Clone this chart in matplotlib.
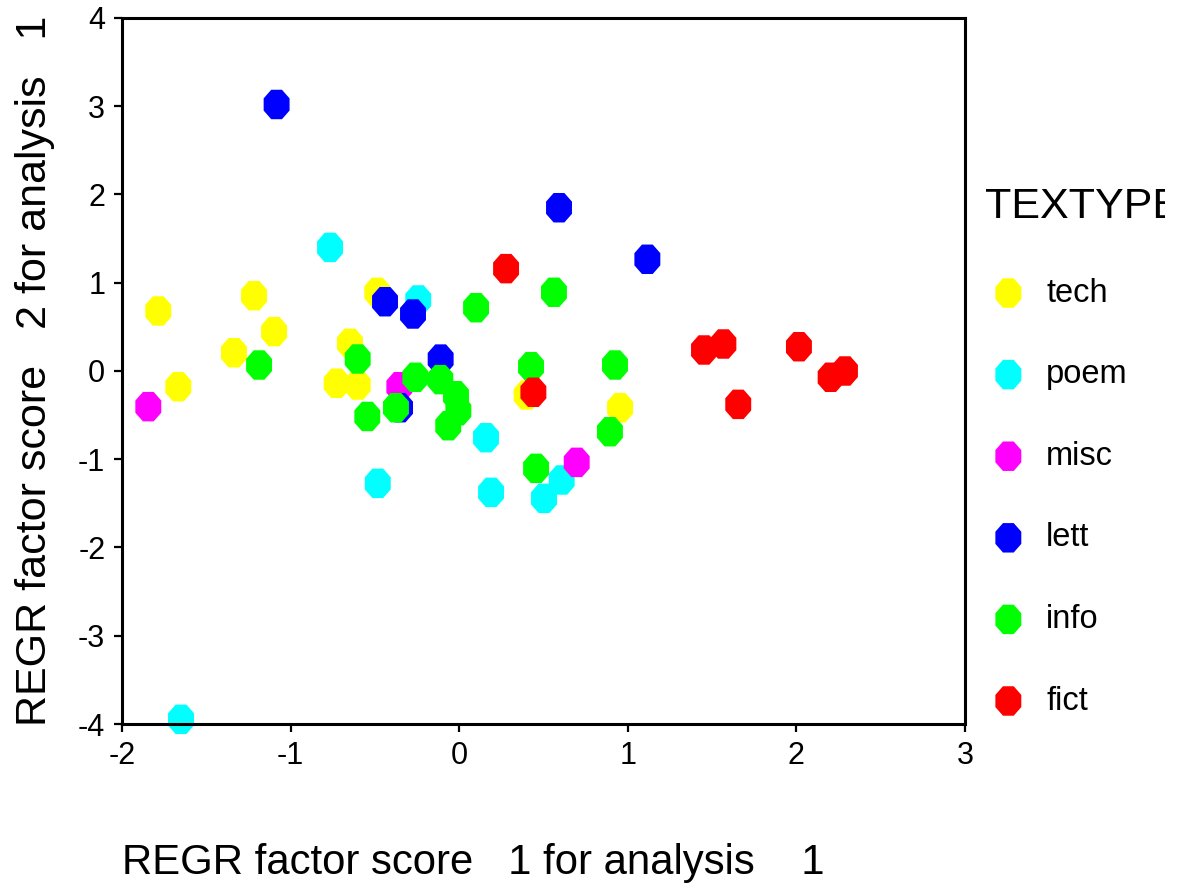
import numpy as np
import matplotlib
matplotlib.use("Agg")
import matplotlib.pyplot as plt
from matplotlib.transforms import Bbox

plt.rcParams['font.family'] = ['Liberation Sans', 'DejaVu Sans']
plt.rcParams['axes.unicode_minus'] = False

# factor scores, one pair of arrays per text type
tech_x = [-1.785, -1.217, -0.486, -1.098, -1.336, -0.648, -1.666, -0.727, -0.602, 0.400, 0.954]
tech_y = [0.68, 0.853, 0.892, 0.446, 0.207, 0.314, -0.178, -0.139, -0.159, -0.272, -0.416]

poem_x = [-0.766, -0.243, 0.159, 0.608, 0.503, 0.189, -0.483, -1.650]
poem_y = [1.40, 0.805, -0.756, -1.235, -1.443, -1.375, -1.273, -3.947]

misc_x = [-1.844, -0.355, 0.697]
misc_y = [-0.404, -0.178, -1.035]

lett_x = [-1.083, 0.592, 1.116, -0.440, -0.274, -0.110, -0.351]
lett_y = [3.02, 1.85, 1.266, 0.785, 0.646, 0.135, -0.416]

info_x = [0.100, 0.562, -1.187, -0.602, 0.426, 0.924, -0.260, -0.112, -0.019,
          -0.005, -0.065, -0.375, -0.545, 0.894, 0.456]
info_y = [0.717, 0.892, 0.068, 0.136, 0.049, 0.068, -0.071, -0.098, -0.28,
          -0.45, -0.62, -0.416, -0.515, -0.688, -1.103]

fict_x = [0.278, 0.440, 1.452, 1.567, 2.015, 2.203, 2.288, 1.655]
fict_y = [1.16, -0.241, 0.238, 0.306, 0.275, -0.071, 0.0, -0.378]

labels = ['tech', 'poem', 'misc', 'lett', 'info', 'fict']
colors = ['#FFFF00', '#00FFFF', '#FF00FF', '#0000FF', '#00FF00', '#FF0000']
xs = [tech_x, poem_x, misc_x, lett_x, info_x, fict_x]
ys = [tech_y, poem_y, misc_y, lett_y, info_y, fict_y]

# slightly tall octagon like the old SPSS marker
ang = np.deg2rad(22.5 + 45 * np.arange(8))
octagon = np.column_stack([0.88 * np.cos(ang), np.sin(ang)])

fig = plt.figure(figsize=(11.8, 8.88), dpi=100)
ax = fig.add_axes([122 / 1180, 164 / 888, 843 / 1180, 706 / 888])

for x, y, c, lab in zip(xs, ys, colors, labels):
    ax.scatter(x, y, s=450, marker=octagon, color=c, edgecolors='none',
               label=lab, clip_on=False)

ax.set_xlim(-2, 3)
ax.set_ylim(-4, 4)
ax.set_xticks(range(-2, 4))
ax.set_yticks(range(-4, 5))

for sp in ax.spines.values():
    sp.set_linewidth(2.2)
ax.tick_params(direction='out', length=6, width=1.6, labelsize=22, pad=6)

ax.set_xlabel('REGR factor score   1 for analysis    1', fontsize=30.2,
              ha='left', va='center')
ax.xaxis.set_label_coords(0, -0.197)
ax.set_ylabel('REGR factor score   2 for analysis   1', fontsize=31,
              ha='center', va='center')
ax.yaxis.set_label_coords(-0.103, 0.5)

leg = ax.legend(title='TEXTYPE', loc='upper left',
                bbox_to_anchor=(985 / 1180, 0.7894), bbox_transform=fig.transFigure,
                frameon=False, fontsize=23.5, title_fontsize=31, scatterpoints=1,
                borderpad=0, borderaxespad=0, labelspacing=1.55, handlelength=1.43,
                handletextpad=0.44, alignment='left')

# the original export is cropped just before the end of the legend title
leg.get_title().set_clip_box(Bbox([[0, 0], [1165, 888]]))

fig.savefig('out.png', dpi=100)
